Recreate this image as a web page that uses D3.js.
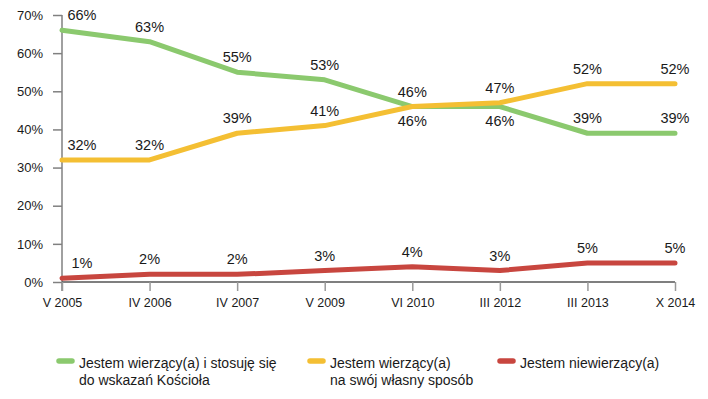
<!DOCTYPE html>
<html lang="pl">
<head>
    <meta charset="UTF-8">
    <title>Wiara</title>
    <script src="https://cdn.jsdelivr.net/npm/d3@7"></script>
    <style>
        body {
            margin: 0;
            background: #fff;
        }

        svg text {
            font-family: "Liberation Sans", Arial, sans-serif;
            fill: #1a1a1a;
        }
    </style>
</head>
<body>
<div id="chart"></div>

<script>
    const categories = ['V 2005', 'IV 2006', 'IV 2007', 'V 2009', 'VI 2010', 'III 2012', 'III 2013', 'X 2014'];
    const greenValues = [66, 63, 55, 53, 46, 46, 39, 39];
    const yellowValues = [32, 32, 39, 41, 46, 47, 52, 52];
    const redValues = [1, 2, 2, 3, 4, 3, 5, 5];
    const yTicks = [0, 10, 20, 30, 40, 50, 60, 70];
    const seriesNames = [
        ['Jestem wierzący(a) i stosuję się', 'do wskazań Kościoła'],
        ['Jestem wierzący(a)', 'na swój własny sposób'],
        ['Jestem niewierzący(a)']
    ];
    const seriesColors = ['#8bc96e', '#f4bf33', '#c8463f'];

    const width = 708, height = 399;
    const margin = {top: 15, left: 62, right: 33, bottom: 117};

    const svg = d3.select('#chart').append('svg').attr('width', width).attr('height', height);

    const x = d3.scalePoint().domain(categories).range([margin.left, width - margin.right]);
    const y = d3.scaleLinear().domain([0, 70]).range([height - margin.bottom, margin.top]);

    // y axis
    const yAxis = d3.axisLeft(y).tickValues(yTicks).tickFormat(d => d + '%').tickSize(9).tickPadding(10);
    const gy = svg.append('g').attr('transform', `translate(${margin.left},0)`).call(yAxis);
    gy.select('.domain').attr('d', `M0,${margin.top}V${y(0) + 9}`).attr('stroke', '#808080').attr('stroke-width', 1.5);
    gy.selectAll('.tick line').attr('stroke', '#808080').attr('stroke-width', 1.5);
    gy.selectAll('.tick text').attr('font-size', 13).attr('fill', '#1a1a1a');

    // x axis
    const xAxis = d3.axisBottom(x).tickSize(9).tickPadding(7);
    const gx = svg.append('g').attr('transform', `translate(0,${y(0)})`).call(xAxis);
    gx.select('.domain').attr('d', `M${margin.left},0H${width - margin.right}`).attr('stroke', '#555').attr('stroke-width', 1.5);
    gx.selectAll('.tick line').attr('stroke', '#999').attr('stroke-width', 1.5);
    gx.selectAll('.tick text').attr('font-size', 12.5).attr('fill', '#1a1a1a');

    const allSeries = [greenValues, yellowValues, redValues];
    const line = d3.line().x((d, i) => x(categories[i])).y(d => y(d));

    allSeries.forEach((vals, s) => {
        svg.append('path')
            .datum(vals)
            .attr('d', line)
            .attr('fill', 'none')
            .attr('stroke', seriesColors[s])
            .attr('stroke-width', 5)
            .attr('stroke-linejoin', 'round')
            .attr('stroke-linecap', 'round');
    });

    // data labels: when green and yellow are close, the lower one goes below
    allSeries.forEach((vals, s) => {
        svg.append('g').selectAll('text')
            .data(vals)
            .join('text')
            .attr('x', (d, i) => x(categories[i]) + (i === 0 ? 20 : 0))
            .attr('y', (d, i) => {
                let below = false;
                if (s < 2) {
                    const other = allSeries[1 - s][i];
                    if (Math.abs(d - other) <= 2) below = s === 0 ? d < other : d <= other;
                }
                return below ? y(d) + 19 : y(d) - 10;
            })
            .attr('text-anchor', 'middle')
            .attr('font-size', 14.5)
            .text(d => d + '%');
    });

    // legend
    const legendX = [57, 308, 498];
    const legend = svg.append('g').selectAll('g')
        .data(seriesNames)
        .join('g')
        .attr('transform', (d, i) => `translate(${legendX[i]},361)`);

    legend.append('line')
        .attr('x1', 2).attr('x2', 15)
        .attr('stroke', (d, i) => seriesColors[i])
        .attr('stroke-width', 5.5)
        .attr('stroke-linecap', 'round');

    legend.append('text')
        .attr('font-size', 14)
        .selectAll('tspan')
        .data(d => d)
        .join('tspan')
        .attr('x', 22)
        .attr('y', (d, i) => 7 + i * 16.5)
        .text(d => d);
</script>
</body>
</html>
